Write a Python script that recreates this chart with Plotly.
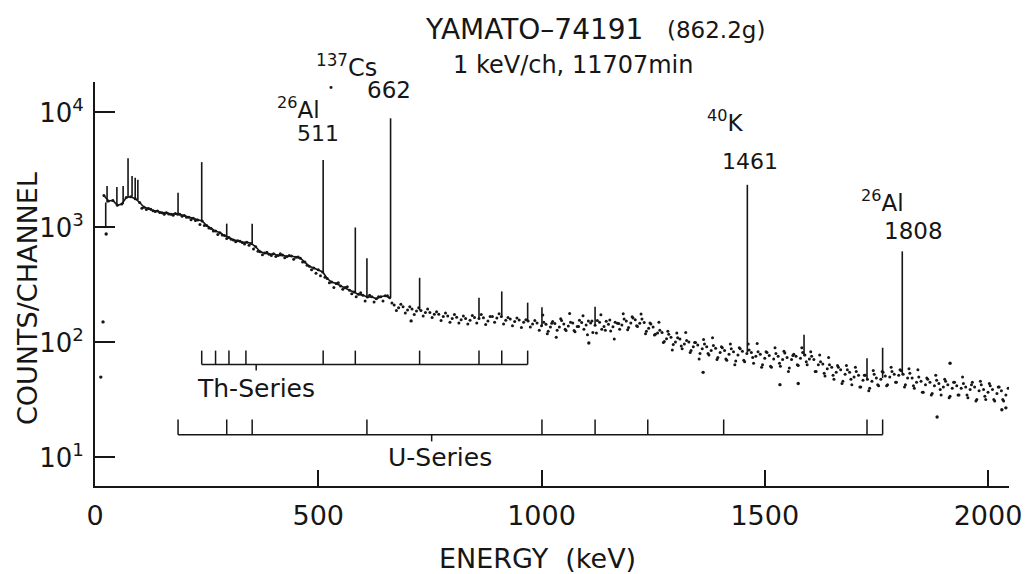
import plotly.graph_objects as go

# ---------------- data ----------------
# continuum, sampled every 10 keV (1 keV/ch spectrum)
energy_main = list(range(20, 2050, 10))
counts_main = [
    1900, 1700, 1720, 1560, 1600, 1820, 1850, 1780,
    1650, 1500, 1460, 1400, 1390, 1340, 1345, 1300, 1320, 1300,
    1270, 1230, 1200, 1160, 1140, 1040, 980, 930, 900, 850,
    820, 780, 765, 740, 745, 725, 680, 615, 600, 585,
    590, 570, 575, 560, 565, 550, 540, 500, 460, 445,
    430, 410, 360, 335, 325, 310, 300, 285, 275, 262,
    258, 248, 250, 240, 250, 255, 245, 212, 200, 204,
    192, 195, 188, 190, 182, 182, 176, 176, 168, 170,
    162, 166, 158, 162, 156, 165, 162, 164, 154, 168,
    163, 168, 156, 160, 152, 157, 150, 154, 145, 148,
    140, 144, 136, 146, 136, 145, 139, 148, 138, 149,
    142, 148, 141, 150, 138, 144, 137, 147, 142, 154,
    148, 158, 147, 149, 133, 136, 121, 122, 108, 111,
    101, 107, 97, 101, 92, 95, 88, 92, 85, 89,
    82, 85, 79, 83, 78, 84, 80, 82, 76, 79,
    73, 77, 72, 76, 71, 74, 71, 76, 73, 78,
    72, 71, 64, 65, 59, 61, 55, 58, 53, 55,
    50, 52, 47, 48, 46, 49, 48, 51, 50, 53,
    52, 53, 49, 49, 45, 46, 43, 45, 42, 44,
    41, 43, 40, 42, 40, 41, 39, 41, 38, 39,
    37, 39, 36, 38, 35,
]

# scattered channels between the samples above
energy_scatter = list(range(105, 2050, 10))
counts_scatter = [
    1470, 1430, 1440, 1380, 1350, 1300, 1310, 1280, 1300, 1250,
    1230, 1170, 1150, 1060, 1040, 990, 930, 870, 860, 800,
    790, 750, 760, 720, 700, 650, 620, 580, 610, 570,
    560, 590, 545, 570, 530, 555, 500, 470, 430, 400,
    380, 370, 330, 300, 330, 290, 305, 265, 250, 270,
    230, 258, 225, 250, 230, 255, 220, 190, 215, 180,
    205, 175, 200, 170, 195, 165, 185, 155, 180, 150,
    175, 148, 170, 145, 172, 148, 175, 143, 168, 150,
    178, 145, 165, 140, 163, 135, 158, 136, 155, 128,
    150, 125, 152, 128, 155, 127, 150, 124, 156, 130,
    154, 122, 155, 130, 153, 126, 150, 130, 160, 135,
    163, 138, 160, 125, 145, 118, 128, 102, 118, 96,
    110, 88, 104, 85, 100, 80, 97, 78, 94, 74,
    90, 70, 88, 69, 88, 68, 86, 66, 83, 64,
    82, 61, 80, 62, 81, 60, 79, 63, 82, 64,
    76, 56, 68, 51, 64, 48, 61, 46, 58, 43,
    56, 41, 52, 40, 53, 42, 55, 43, 56, 45,
    57, 43, 54, 40, 50, 37, 48, 36, 47, 35,
    46, 34, 45, 35, 44, 33, 45, 32, 43, 32,
    42, 31, 41, 31, 40,
]

# further scattered channels in the high-energy part
energy_scatter_hi = list(range(1003, 2040, 10))
counts_scatter_hi = [
    173, 119, 147, 111, 161, 130, 179, 127, 138, 171,
    117, 154, 121, 174, 128, 157, 107, 146, 178, 129,
    167, 140, 177, 119, 148, 116, 150, 100, 125, 86,
    121, 93, 122, 82, 100, 72, 106, 80, 110, 71,
    92, 72, 97, 64, 90, 70, 97, 74, 98, 61,
    83, 62, 90, 66, 84, 56, 77, 64, 90, 68,
    83, 56, 78, 54, 74, 52, 63, 44, 63, 48,
    61, 41, 52, 38, 57, 43, 56, 42, 61, 45,
    58, 41, 59, 42, 58, 37, 49, 35, 52, 39,
    48, 33, 45, 35, 50, 35, 43, 31, 46, 34,
    44, 32, 41, 32,
]

# isolated outlying channels
energy_outlier = [13, 18, 25, 708, 1106, 1362, 1534, 1575, 1886, 1915, 2031, 2040]
counts_outlier = [50, 151, 877, 154, 99, 55, 43, 44, 22.5, 66, 26, 27]

# photo-peaks: energy, continuum level under the peak, peak top
peak_energy = [24, 27, 49, 63, 74, 83, 90, 96, 186, 239, 295, 352, 511, 583, 609,
               662, 727, 860, 911, 969, 1001, 1120, 1461, 1588, 1729, 1764, 1808]
peak_base = [1000, 1650, 1560, 1600, 1820, 1850, 1800, 1720, 1310, 1140, 830, 725, 410,
             272, 250, 245, 190, 162, 166, 152, 140, 143, 82, 76, 47, 49, 52]
peak_top = [1650, 2300, 2250, 2300, 4000, 2800, 2700, 2600, 2000, 3700, 1080, 1080, 3860,
            1000, 540, 8900, 365, 245, 278, 222, 202, 205, 2350, 117, 73, 90, 620]

# gamma-ray lines of the decay series (marker brackets)
th_series_lines = [239, 270, 300, 338, 511, 583, 727, 860, 911, 969]
u_series_lines = [186, 295, 352, 609, 1001, 1120, 1238, 1408, 1729, 1764]
th_label_pointer = 361
u_label_pointer = 754

x_ticks = [0, 500, 1000, 1500, 2000]
y_ticks = [10, 100, 1000, 10000]
y_tick_text = ["10<sup>1</sup>", "10<sup>2</sup>", "10<sup>3</sup>", "10<sup>4</sup>"]

# ---------------- layout constants ----------------
W, H = 1036, 574
L, R, T, B = 95, 27, 82, 88
PW, PH = W - L - R, H - T - B
FONT = "DejaVu Sans"
INK = "#161616"

# bracket levels (counts)
TH_BASE, TH_TICK, TH_PTR = 64.4, 85.0, 57.0
U_BASE, U_TICK, U_PTR = 15.8, 21.4, 13.8
LINE_UNTIL_KEV = 660   # continuum drawn as a joined line up to here


def px(xp, yp):
    return (xp - L) / PW, (T + PH - yp) / PH


fig = go.Figure()

# peaks as vertical lines
pk_x, pk_y = [], []
for e, b, t in zip(peak_energy, peak_base, peak_top):
    pk_x += [e, e, None]
    pk_y += [b, t, None]
fig.add_trace(go.Scatter(x=pk_x, y=pk_y, mode="lines",
                         line=dict(color=INK, width=1.6), hoverinfo="skip"))

split = energy_main.index(LINE_UNTIL_KEV) + 1
fig.add_trace(go.Scatter(x=energy_main[:split], y=counts_main[:split], mode="lines+markers",
                         line=dict(color=INK, width=1.6),
                         marker=dict(color=INK, size=3)))
fig.add_trace(go.Scatter(x=energy_main[split:], y=counts_main[split:], mode="markers",
                         marker=dict(color=INK, size=3)))
fig.add_trace(go.Scatter(x=energy_scatter, y=counts_scatter, mode="markers",
                         marker=dict(color=INK, size=3)))
fig.add_trace(go.Scatter(x=energy_scatter_hi, y=counts_scatter_hi, mode="markers",
                         marker=dict(color=INK, size=3)))
fig.add_trace(go.Scatter(x=energy_outlier, y=counts_outlier, mode="markers",
                         marker=dict(color=INK, size=3.4)))


def bracket(lines, base, tick, ptr_e, ptr_y):
    bx = [lines[0], lines[-1], None]
    by = [base, base, None]
    for e in lines:
        bx += [e, e, None]
        by += [base, tick, None]
    bx += [ptr_e, ptr_e, None]
    by += [base, ptr_y, None]
    return bx, by


for lines, base, tick, pe, py in [
    (th_series_lines, TH_BASE, TH_TICK, th_label_pointer, TH_PTR),
    (u_series_lines, U_BASE, U_TICK, u_label_pointer, U_PTR),
]:
    bx, by = bracket(lines, base, tick, pe, py)
    fig.add_trace(go.Scatter(x=bx, y=by, mode="lines",
                             line=dict(color=INK, width=1.5), hoverinfo="skip"))

x_range = [0, PW / 0.4465]
y_range = [0.752, 4.265]

fig.update_layout(
    width=W, height=H,
    margin=dict(l=L, r=R, t=T, b=B),
    paper_bgcolor="white", plot_bgcolor="white",
    showlegend=False,
    font=dict(family=FONT, color=INK),
    xaxis=dict(range=x_range, tickvals=x_ticks, ticks="inside", ticklen=16,
               tickwidth=1.5, tickcolor=INK, showline=True, linecolor=INK,
               linewidth=2, showgrid=False, zeroline=False,
               tickfont=dict(size=27, family=FONT, color=INK),
               ticklabelstandoff=5),
    yaxis=dict(type="log", range=y_range, tickvals=y_ticks, ticktext=y_tick_text,
               ticks="inside", ticklen=20, tickwidth=1.5, tickcolor=INK,
               showline=True, linecolor=INK, linewidth=2, showgrid=False,
               zeroline=False, tickfont=dict(size=26, family=FONT, color=INK),
               ticklabelstandoff=4),
)

annotations = [
    ("YAMATO–74191", 534, 29, 28),
    ("(862.2g)", 716, 30, 23),
    ("1 keV/ch, 11707min", 573, 65, 24),
    ("<sup>137</sup>Cs", 346, 66, 24),
    ("•", 331, 87, 10),
    ("662", 389, 90, 23),
    ("<sup>26</sup>Al", 298, 108, 23),
    ("511", 318, 133, 22),
    ("<sup>40</sup>K", 725, 121, 23),
    ("1461", 750, 161, 22),
    ("<sup>26</sup>Al", 882, 201, 23),
    ("1808", 913, 231, 23),
    ("Th-Series", 256, 388, 25),
    ("U-Series", 440, 457, 25),
    ("ENERGY  (keV)", 537, 558, 27),
]
for text, xp, yp, size in annotations:
    ax, ay = px(xp, yp)
    fig.add_annotation(x=ax, y=ay, xref="paper", yref="paper", text=text,
                       showarrow=False, xanchor="center", yanchor="middle",
                       font=dict(size=size, family=FONT, color=INK))

ax, ay = px(27, 299)
fig.add_annotation(x=ax, y=ay, xref="paper", yref="paper", text="COUNTS/CHANNEL",
                   showarrow=False, textangle=-90, xanchor="center", yanchor="middle",
                   font=dict(size=27, family=FONT, color=INK))

fig.write_html("out.html")
